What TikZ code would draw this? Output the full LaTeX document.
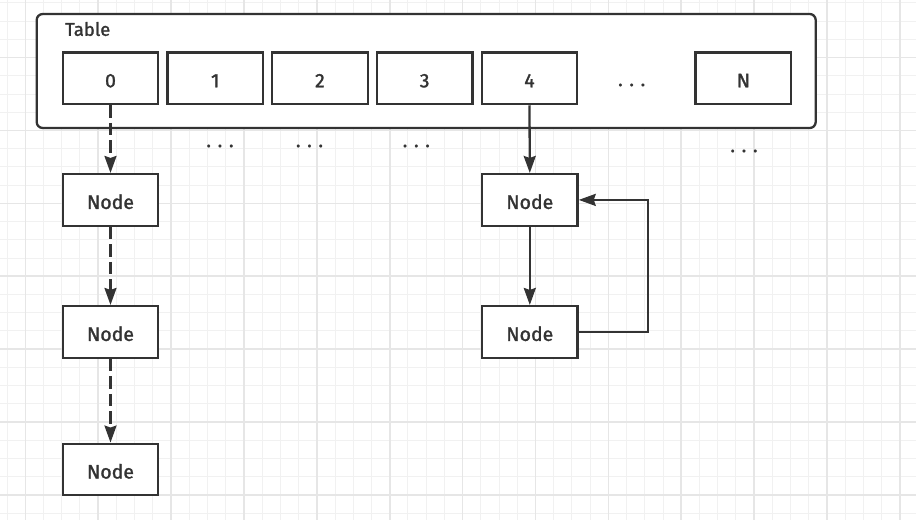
\documentclass[tikz,border=0pt]{standalone}
\usepackage{fontspec}
\setmainfont{Fira Sans}[FakeBold=1.4]
\usetikzlibrary{arrows.meta}
\definecolor{ink}{HTML}{333333}
\definecolor{gridminor}{HTML}{F1F1F1}
\definecolor{gridmajor}{HTML}{E6E6E6}
\tikzset{
  gminor/.style={draw=gridminor, line width=1pt},
  gmajor/.style={draw=gridmajor, line width=1.6pt},
  container/.style={draw=ink, line width=2.3pt, fill=white, rounded corners=6pt},
  cellbox/.style={draw=ink, line width=2.3pt, fill=white, minimum width=95.6pt, minimum height=51.6pt, inner sep=0pt, text=ink, text height=18pt, text depth=0pt, font=\fontsize{19.5}{22}\selectfont},
  lbl/.style={text=ink, inner sep=0pt, font=\fontsize{18.5}{22}\selectfont},
  dotlbl/.style={text=ink, inner sep=0pt, font=\fontsize{19}{22}\selectfont},
  link/.style={draw=ink, line width=2.3pt, -{Stealth[length=17pt, width=12pt, inset=2pt]}},
  dlink/.style={link, dash pattern=on 12.5pt off 5pt}
}
\begin{document}
\begin{tikzpicture}[x=1pt, y=-1pt]
\useasboundingbox (0,0) rectangle (916,520);
\fill[white] (0,0) rectangle (916,520);
% grid
\foreach \i in {-1,...,48} { \draw[gminor] ({25.3+18.22*\i},0) -- ({25.3+18.22*\i},520); }
\foreach \i in {-3,...,25} { \draw[gminor] (0,{57.6+18.22*\i}) -- (916,{57.6+18.22*\i}); }
\foreach \i in {0,...,12} { \draw[gmajor] ({25.3+72.88*\i},0) -- ({25.3+72.88*\i},520); }
\foreach \i in {0,...,6} { \draw[gmajor] (0,{57.6+72.88*\i}) -- (916,{57.6+72.88*\i}); }
% table
\draw[container] (36.7,14) rectangle (815.7,128);
\node[lbl, anchor=west] (tlabel) at (65,29) {Table};
\node[cellbox] (c0) at (110.5,78.3) {0};
\node[cellbox] (c1) at (215.2,78.3) {1};
\node[cellbox] (c2) at (319.9,78.3) {2};
\node[cellbox] (c3) at (424.6,78.3) {3};
\node[cellbox] (c4) at (529.5,78.3) {4};
\node[dotlbl] (cdots) at (631.7,85) {. . .};
\node[cellbox] (cN) at (743.4,78.3) {N};
% dots below table
\node[dotlbl] (d1) at (220,146) {. . .};
\node[dotlbl] (d2) at (309.5,146) {. . .};
\node[dotlbl] (d3) at (416.3,146) {. . .};
\node[dotlbl] (d4) at (744,151) {. . .};
% nodes
\node[cellbox] (n1) at (110.5,199.9) {Node};
\node[cellbox] (n2) at (110.5,331.9) {Node};
\node[cellbox] (n3) at (110.5,469.5) {Node};
\node[cellbox] (m1) at (529.8,199.9) {Node};
\node[cellbox] (m2) at (529.8,331.9) {Node};
\coordinate (loop) at (648.3,331.9);
% connectors
\draw[dlink] (c0.south) -- (n1.north);
\draw[dlink] (n1.south) -- (n2.north);
\draw[dlink] (n2.south) -- (n3.north);
\draw[link] (c4.south) -- (m1.north);
\draw[link] (m1.south) -- (m2.north);
\draw[link] (m2.east) -- (loop) |- (m1.east);
\end{tikzpicture}
\end{document}
